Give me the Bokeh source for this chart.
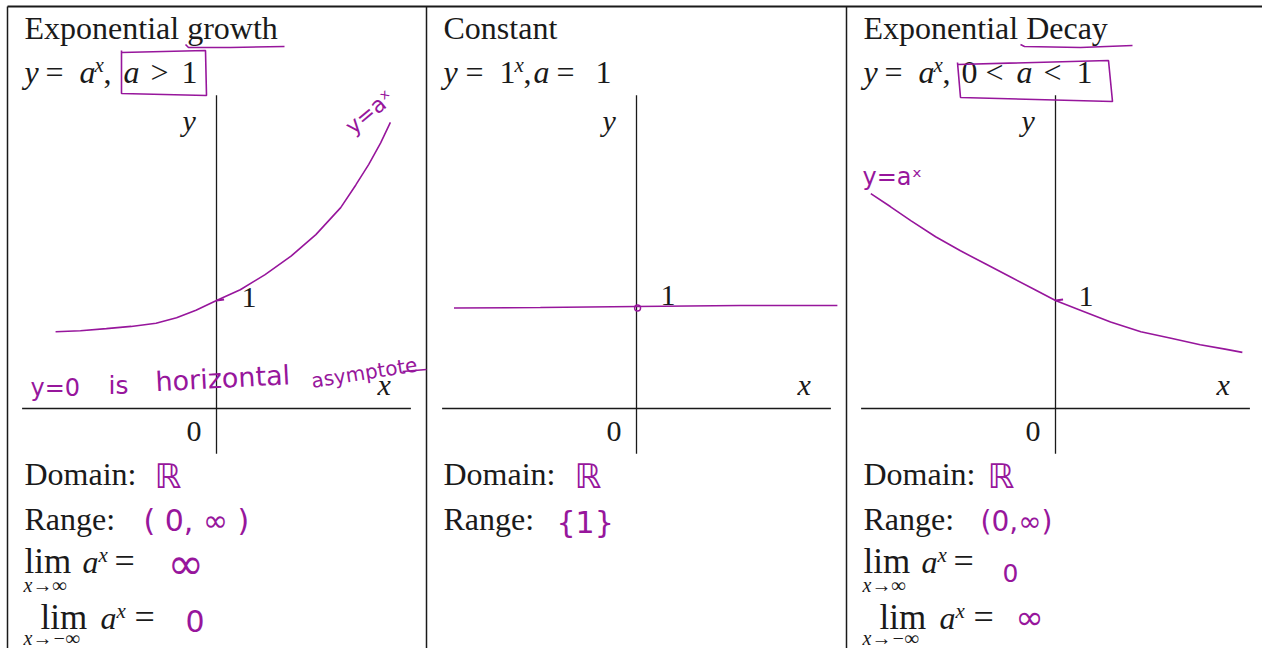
from bokeh.plotting import figure
from bokeh.models import Range1d
from bokeh.embed import file_html
from bokeh.resources import INLINE
from bokeh.core.properties import value

# ---- curve data (function units, origin where the axes cross) ----
growth_x = [-1.49, -1.26, -1.02, -0.79, -0.56, -0.37, -0.19, 0.0, 0.22, 0.45,
            0.69, 0.92, 1.15, 1.29, 1.41, 1.52, 1.61]
growth_y = [0.71, 0.72, 0.74, 0.76, 0.79, 0.84, 0.91, 1.0, 1.10, 1.24,
            1.41, 1.61, 1.86, 2.07, 2.26, 2.46, 2.65]

const_x = [-1.69, -0.89, 0.0, 0.96, 1.86]
const_y = [0.93, 0.935, 0.944, 0.954, 0.954]

decay_x = [-1.71, -1.53, -1.34, -1.11, -0.88, -0.65, -0.42, -0.19, 0.0, 0.23,
           0.51, 0.79, 1.07, 1.34, 1.57, 1.73]
decay_y = [1.99, 1.87, 1.74, 1.59, 1.46, 1.34, 1.22, 1.10, 1.0, 0.91,
           0.80, 0.71, 0.65, 0.59, 0.55, 0.52]

axis_x_span = [-1.8, 1.8]
axis_y_span = [-0.42, 2.9]

titles = ["Exponential growth", "Constant", "Exponential Decay"]
domains = ["ℝ", "ℝ", "ℝ"]
ranges_ = ["( 0, ∞ )", "{1}", "(0,∞)"]

# ---- page layout ----
W, H = 1262, 648
UNIT = 108                      # pixels per function unit
AXIS_ROW = 408                  # page row of the x-axes
ORIGINS = [216, 636, 1055]      # page column of each y-axis
PANEL_LEFT = [24, 443, 863]     # left text margin of each column

INK = "#1a1a1a"
PEN = "#97169c"
SERIF = "Liberation Serif"
HAND = "DejaVu Sans"
BODY = 32

p = figure(width=W, height=H, x_range=Range1d(0, W), y_range=Range1d(H, 0),
           output_backend="svg", toolbar_location=None, min_border=0,
           x_axis_type=None, y_axis_type=None)
p.grid.visible = False
p.outline_line_color = None
p.background_fill_color = "white"
p.border_fill_color = "white"

for i, ox in enumerate(ORIGINS):
    p.extra_x_ranges[f"m{i}"] = Range1d(-ox / UNIT, (W - ox) / UNIT)
p.extra_y_ranges["my"] = Range1d((AXIS_ROW - H) / UNIT, AXIS_ROW / UNIT)


def txt(x, y, s, size, color=INK, font=SERIF, style="normal", angle=0):
    # y is the wanted baseline row; the renderer sits glyphs about a third of an em low
    p.text([x], [y - 0.32 * size], text=[s], text_font=value(font),
           text_font_size=f"{size}px", text_font_style=style, text_color=color,
           text_baseline="alphabetic", text_align="left", angle=angle, angle_units="deg")


# ---- table rules ----
p.line([7, W], [6, 6], line_color=INK, line_width=2)
for xv in [7, 426, 846]:
    p.line([xv, xv], [6, H], line_color=INK, line_width=1.5)

# ---- axes and curves per column ----
curves = [(growth_x, growth_y), (const_x, const_y), (decay_x, decay_y)]
for i, (cx, cy) in enumerate(curves):
    rn = f"m{i}"
    p.line(axis_x_span, [0, 0], x_range_name=rn, y_range_name="my",
           line_color=INK, line_width=1.3)
    p.line([0, 0], axis_y_span, x_range_name=rn, y_range_name="my",
           line_color=INK, line_width=1.3)
    p.line(cx, cy, x_range_name=rn, y_range_name="my", line_color=PEN, line_width=1.6)

# small marks where the curves meet the y-axis
p.line([0, 0.07], [1.0, 1.01], x_range_name="m0", y_range_name="my", line_color=PEN, line_width=2)
p.line([0, 0.07], [1.0, 1.01], x_range_name="m2", y_range_name="my", line_color=PEN, line_width=2)
p.scatter([0.01], [0.93], x_range_name="m1", y_range_name="my", marker="circle", size=6,
          fill_color=None, line_color=PEN, line_width=1.4)

# ---- axis letters ----
for i, ox in enumerate(ORIGINS):
    txt(ox - 34, 130, "y", 30, style="italic")
    txt(ox + 161, 394, "x", 30, style="italic")
    txt(ox - 30, 441, "0", 30)
txt(241, 307, "1", 30)
txt(660, 305, "1", 30)
txt(1078, 306, "1", 30)

# ---- headings ----
for i, t in enumerate(titles):
    txt(PANEL_LEFT[i], 38, t, BODY)

# y = a^x, a > 1
txt(24, 82, "y", BODY, style="italic")
txt(45, 82, "=", BODY)
txt(79, 82, "a", BODY, style="italic")
txt(94, 71, "x", 21, style="italic")
txt(103, 82, ",", BODY)
txt(123, 82, "a", BODY, style="italic")
txt(150, 82, ">", BODY)
txt(181, 82, "1", BODY)

# y = 1^x, a = 1
txt(443, 82, "y", BODY, style="italic")
txt(465, 82, "=", BODY)
txt(499, 82, "1", BODY)
txt(514, 71, "x", 21, style="italic")
txt(523, 82, ",", BODY)
txt(533, 82, "a", BODY, style="italic")
txt(556, 82, "=", BODY)
txt(595, 82, "1", BODY)

# y = a^x, 0 < a < 1
txt(863, 82, "y", BODY, style="italic")
txt(884, 82, "=", BODY)
txt(918, 82, "a", BODY, style="italic")
txt(933, 71, "x", 21, style="italic")
txt(942, 82, ",", BODY)
txt(961, 82, "0", BODY)
txt(985, 82, "<", BODY)
txt(1016, 82, "a", BODY, style="italic")
txt(1043, 82, "<", BODY)
txt(1076, 82, "1", BODY)

# ---- domain / range / limits ----
for i, left in enumerate(PANEL_LEFT):
    txt(left, 484, "Domain:", BODY)
    txt(left, 529, "Range:", BODY)
for left in [PANEL_LEFT[0], PANEL_LEFT[2]]:
    txt(left, 572, "lim", 35)
    txt(left + 58, 572, "a", BODY, style="italic")
    txt(left + 74, 561, "x", 21, style="italic")
    txt(left + 90, 572, "=", 36)
    txt(left - 1, 591, "x→∞", 20, style="italic")
    txt(left + 16, 628, "lim", 35)
    txt(left + 76, 628, "a", BODY, style="italic")
    txt(left + 92, 617, "x", 21, style="italic")
    txt(left + 110, 628, "=", 36)
    txt(left - 1, 644, "x→−∞", 20, style="italic")

# ---- handwritten notes ----
txt(154, 486, domains[0], 34, color=PEN, font=HAND)
txt(574, 486, domains[1], 34, color=PEN, font=HAND)
txt(987, 486, domains[2], 34, color=PEN, font=HAND)
txt(143, 530, ranges_[0], 30, color=PEN, font=HAND)
txt(556, 532, ranges_[1], 30, color=PEN, font=HAND)
txt(980, 530, ranges_[2], 28, color=PEN, font=HAND)
txt(167, 577, "∞", 44, color=PEN, font=HAND)
txt(185, 630, "0", 30, color=PEN, font=HAND)
txt(1002, 580, "0", 25, color=PEN, font=HAND)
txt(1015, 627, "∞", 34, color=PEN, font=HAND)

txt(348, 136, "y=aˣ", 22, color=PEN, font=HAND, angle=40)
txt(862, 184, "y=aˣ", 24, color=PEN, font=HAND)

txt(30, 395, "y=0", 24, color=PEN, font=HAND)
txt(108, 393, "is", 25, color=PEN, font=HAND)
txt(155, 390, "horizontal", 27, color=PEN, font=HAND, angle=3)
txt(311, 387, "asymptote", 20, color=PEN, font=HAND, angle=9)
p.line([402, 426], [371, 369], line_color=PEN, line_width=1.6)

# underlines and boxes drawn by hand
p.line([185, 188, 230, 284], [44, 47, 47, 46], line_color=PEN, line_width=1.6)
p.line([1020, 1024, 1080, 1132], [44, 46, 47, 45], line_color=PEN, line_width=1.6)
p.line([121, 205, 206, 121, 121], [52, 50, 95, 93, 50], line_color=PEN, line_width=1.6)
p.line([957, 1108, 1112, 960, 957], [64, 60, 101, 97, 62], line_color=PEN, line_width=1.6)

open("out.html", "w").write(file_html(p, INLINE))
